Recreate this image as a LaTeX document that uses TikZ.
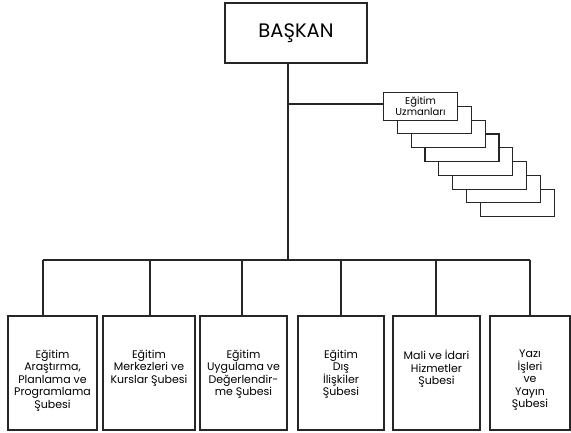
\documentclass[tikz,border=0pt]{standalone}
\usepackage{fontspec}
\setmainfont{Poppins}
\begin{document}
\begin{tikzpicture}[x=1pt,y=-1pt,
  line/.style={line width=1.1pt,black!85},
  box/.style={draw=black!85,line width=1.1pt,fill=white,rectangle,inner sep=0pt},
  unit/.style={box,minimum width=114pt,minimum height=114pt},
  utext/.style={anchor=north,align=center,font=\fontsize{11}{12.4}\selectfont,inner sep=0pt},
  stack/.style={box,minimum width=74pt,minimum height=27.5pt,anchor=north west}]
\useasboundingbox (0,0) rectangle (571,432);
% head
\node[box,minimum width=142pt,minimum height=60pt,font=\fontsize{19.5}{22}\selectfont] (bk) at (296,33) {BAŞKAN};
% bus
\coordinate (c0) at (288,260);
\coordinate (cu) at (288,104);
\coordinate (d1) at (43,260);
\coordinate (d2) at (150,260);
\coordinate (d3) at (242,260);
\coordinate (d4) at (341,260);
\coordinate (d5) at (436,260);
\coordinate (d6) at (530,260);
% stack of expert boxes (drawn back to front)
\foreach \i in {7,6,...,1}{
  \node[stack] (u\i) at ({383+13.8*\i},{92+13.8*\i}) {};
}
\node[stack,font=\fontsize{10}{10}\selectfont,align=center] (u0) at (383,92) {Eğitim\\Uzmanları};
% bottom units
\node[unit,minimum width=89pt] (b1) at (52.5,373) {};
\node[unit,minimum width=92pt] (b2) at (149,373) {};
\node[unit,minimum width=87pt] (b3) at (243.5,373) {};
\node[unit,minimum width=86pt] (b4) at (341,373) {};
\node[unit,minimum width=87pt] (b5) at (436.5,373) {};
\node[unit,minimum width=80pt] (b6) at (530,373) {};
\node[utext] (t1) at (52.5,350) {Eğitim\\Araştırma,\\Planlama ve\\Programlama\\Şubesi};
\node[utext] (t2) at (149,350) {Eğitim\\Merkezleri ve\\Kurslar Şubesi};
\node[utext] (t3) at (243.5,350) {Eğitim\\Uygulama ve\\Değerlendir-\\me Şubesi};
\node[utext] (t4) at (341,350) {Eğitim\\Dış\\İlişkiler\\Şubesi};
\node[utext] (t5) at (436.5,350) {Mali ve İdari\\Hizmetler\\Şubesi};
\node[utext] (t6) at (530,350) {Yazı\\İşleri\\ve\\Yayın\\Şubesi};
% connectors
\draw[line] (bk.south -| c0) -- (c0);
\draw[line] (cu) -- (u0.west |- cu);
\draw[line] (d1) -- (d6);
\draw[line] (d1) -- (d1 |- b1.north);
\draw[line] (d2) -- (d2 |- b2.north);
\draw[line] (d3) -- (d3 |- b3.north);
\draw[line] (d4) -- (d4 |- b4.north);
\draw[line] (d5) -- (d5 |- b5.north);
\draw[line] (d6) -- (d6 |- b6.north);
\end{tikzpicture}
\end{document}
